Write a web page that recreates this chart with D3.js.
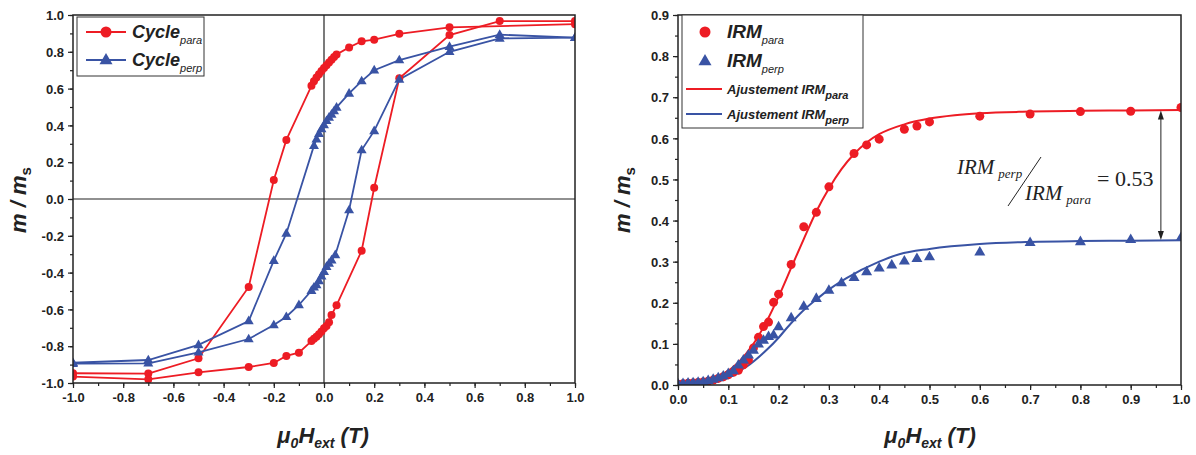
<!DOCTYPE html>
<html><head><meta charset="utf-8">
<script src="https://cdn.jsdelivr.net/npm/d3@7"></script>
<style>body{margin:0;background:#fff}svg{display:block}</style>
</head><body>
<svg id="c" width="1196" height="455"></svg>
<script>
// ---------- DATA ----------
const cycleParaDown = [[1.0,0.95],[0.5,0.933],[0.3,0.898],[0.2,0.866],[0.15,0.857],[0.1,0.824],[0.05,0.785],[0.04,0.772],[0.03,0.757],[0.02,0.742],[0.01,0.727],[0.0,0.712],[-0.01,0.695],[-0.02,0.678],[-0.03,0.66],[-0.04,0.64],[-0.05,0.615],[-0.15,0.321],[-0.2,0.103],[-0.3,-0.478],[-0.5,-0.866],[-0.7,-0.949],[-1.0,-0.947]];
const cycleParaUp = [[-1.0,-0.965],[-0.7,-0.98],[-0.5,-0.942],[-0.3,-0.913],[-0.2,-0.891],[-0.15,-0.853],[-0.1,-0.835],[-0.05,-0.772],[-0.04,-0.76],[-0.03,-0.748],[-0.02,-0.735],[-0.01,-0.72],[0.0,-0.703],[0.01,-0.69],[0.02,-0.67],[0.03,-0.63],[0.05,-0.578],[0.15,-0.281],[0.2,0.061],[0.3,0.656],[0.5,0.891],[0.7,0.967],[1.0,0.967]];
const cyclePerpDown = [[1.0,0.877],[0.7,0.893],[0.5,0.828],[0.3,0.755],[0.2,0.70],[0.15,0.641],[0.1,0.574],[0.05,0.498],[0.04,0.478],[0.03,0.46],[0.02,0.443],[0.01,0.425],[0.0,0.402],[-0.01,0.38],[-0.02,0.355],[-0.03,0.325],[-0.04,0.29],[-0.15,-0.187],[-0.2,-0.335],[-0.3,-0.663],[-0.5,-0.793],[-0.7,-0.875],[-1.0,-0.89]];
const cyclePerpUp = [[-1.0,-0.895],[-0.7,-0.893],[-0.5,-0.833],[-0.3,-0.761],[-0.2,-0.685],[-0.15,-0.64],[-0.1,-0.576],[-0.05,-0.498],[-0.04,-0.48],[-0.03,-0.467],[-0.02,-0.445],[-0.01,-0.42],[0.0,-0.395],[0.01,-0.368],[0.02,-0.35],[0.03,-0.332],[0.045,-0.304],[0.1,-0.06],[0.15,0.266],[0.2,0.37],[0.3,0.65],[0.5,0.80],[0.7,0.873],[1.0,0.877]];

const irmPara = [[0.0,0.002],[0.01,0.003],[0.02,0.004],[0.03,0.005],[0.04,0.006],[0.05,0.007],[0.06,0.009],[0.07,0.012],[0.08,0.016],[0.09,0.02],[0.1,0.025],[0.11,0.031],[0.12,0.036],[0.13,0.049],[0.14,0.061],[0.15,0.09],[0.16,0.116],[0.17,0.142],[0.18,0.153],[0.19,0.201],[0.2,0.221],[0.225,0.293],[0.25,0.385],[0.275,0.42],[0.3,0.482],[0.35,0.563],[0.375,0.584],[0.4,0.598],[0.45,0.622],[0.475,0.63],[0.5,0.64],[0.6,0.654],[0.7,0.659],[0.8,0.665],[0.9,0.666],[1.0,0.675]];
const irmPerp = [[0.0,0.003],[0.01,0.004],[0.02,0.005],[0.03,0.006],[0.04,0.007],[0.05,0.008],[0.06,0.011],[0.07,0.014],[0.08,0.018],[0.09,0.022],[0.1,0.028],[0.11,0.035],[0.12,0.049],[0.13,0.061],[0.14,0.073],[0.15,0.085],[0.16,0.1],[0.17,0.109],[0.18,0.118],[0.19,0.122],[0.2,0.142],[0.225,0.164],[0.25,0.192],[0.275,0.211],[0.3,0.231],[0.325,0.249],[0.35,0.262],[0.375,0.276],[0.4,0.285],[0.425,0.292],[0.45,0.302],[0.475,0.308],[0.5,0.312],[0.6,0.324],[0.7,0.347],[0.8,0.349],[0.9,0.354],[1.0,0.359]];
const fitPara = [[0,0],[0.03,0.003],[0.06,0.011],[0.09,0.027],[0.12,0.055],[0.15,0.1],[0.175,0.152],[0.2,0.215],[0.225,0.285],[0.25,0.355],[0.275,0.422],[0.3,0.478],[0.325,0.525],[0.35,0.562],[0.375,0.59],[0.4,0.61],[0.45,0.634],[0.5,0.648],[0.55,0.656],[0.6,0.661],[0.7,0.665],[0.8,0.667],[0.9,0.668],[1.0,0.669]];
const fitPerp = [[0,0],[0.03,0.002],[0.06,0.006],[0.1,0.021],[0.137,0.045],[0.176,0.085],[0.2,0.115],[0.216,0.138],[0.243,0.174],[0.282,0.215],[0.3,0.232],[0.335,0.26],[0.4,0.30],[0.44,0.318],[0.5,0.331],[0.6,0.343],[0.7,0.348],[0.8,0.350],[0.9,0.351],[1.0,0.352]];

const leftXTicks = [-1.0,-0.8,-0.6,-0.4,-0.2,0.0,0.2,0.4,0.6,0.8,1.0];
const leftYTicks = [-1.0,-0.8,-0.6,-0.4,-0.2,0.0,0.2,0.4,0.6,0.8,1.0];
const rightXTicks = [0.0,0.1,0.2,0.3,0.4,0.5,0.6,0.7,0.8,0.9,1.0];
const rightYTicks = [0.0,0.1,0.2,0.3,0.4,0.5,0.6,0.7,0.8,0.9];
const ratioValue = "0.53";

// ---------- STYLE ----------
const RED = "#ed1c24", BLUE = "#3953a4", AX = "#222";
const svg = d3.select("#c");
const fmt = d => d.toFixed(1);

function triPath(s){ const h = s*0.866; return `M0,${-h*0.62}L${s/2},${h*0.38}L${-s/2},${h*0.38}Z`; }

function drawAxes(g, x, y, xt, yt, xMinor, yMinor, W, H){
  g.append("g").attr("transform",`translate(0,${H})`)
    .call(d3.axisBottom(x).tickValues(xMinor).tickSize(3).tickFormat(""))
    .call(a=>{a.select(".domain").remove(); a.selectAll("line").attr("stroke",AX).attr("stroke-width",1.2);});
  g.append("g")
    .call(d3.axisLeft(y).tickValues(yMinor).tickSize(3).tickFormat(""))
    .call(a=>{a.select(".domain").remove(); a.selectAll("line").attr("stroke",AX).attr("stroke-width",1.2);});
  g.append("g").attr("transform",`translate(0,${H})`)
    .call(d3.axisBottom(x).tickValues(xt).tickSize(5).tickPadding(5).tickFormat(fmt))
    .call(a=>{a.select(".domain").remove(); a.selectAll("line").attr("stroke",AX).attr("stroke-width",1.2);
      a.selectAll("text").attr("font-family","Liberation Sans, Arial").attr("font-weight","bold").attr("font-size",13).attr("fill","#222");});
  g.append("g")
    .call(d3.axisLeft(y).tickValues(yt).tickSize(5).tickPadding(4).tickFormat(fmt))
    .call(a=>{a.select(".domain").remove(); a.selectAll("line").attr("stroke",AX).attr("stroke-width",1.2);
      a.selectAll("text").attr("font-family","Liberation Sans, Arial").attr("font-weight","bold").attr("font-size",13).attr("fill","#222").attr("dy","0.36em");});
}

function frame(g,W,H){
  g.append("rect").attr("x",0).attr("y",0).attr("width",W).attr("height",H)
    .attr("fill","none").attr("stroke",AX).attr("stroke-width",1.5);
}

function yTitle(cx, cy){
  const t = svg.append("text").attr("transform",`translate(${cx},${cy}) rotate(-90)`)
    .attr("text-anchor","middle").attr("font-family","Liberation Sans, Arial")
    .attr("font-weight","bold").attr("font-size",22).attr("fill","#222");
  t.append("tspan").attr("font-style","italic").text("m / m");
  t.append("tspan").attr("font-size",15).attr("dy",5).text("s");
}
function xTitle(cx, by){
  const t = svg.append("text").attr("x",cx).attr("y",by).attr("text-anchor","middle")
    .attr("font-family","Liberation Sans, Arial").attr("font-weight","bold").attr("font-style","italic")
    .attr("font-size",22).attr("fill","#222");
  t.append("tspan").text("μ");
  t.append("tspan").attr("font-size",14).attr("dy",5).text("0");
  t.append("tspan").attr("dy",-5).text("H");
  t.append("tspan").attr("font-size",14).attr("dy",5).text("ext");
  t.append("tspan").attr("dy",-5).text(" (T)");
}

// ---------- LEFT PLOT ----------
{
  const L = 73, T = 15, W = 502, H = 368;
  const g = svg.append("g").attr("transform",`translate(${L},${T})`);
  const x = d3.scaleLinear().domain([-1,1]).range([0,W]);
  const y = d3.scaleLinear().domain([-1,1]).range([H,0]);
  svg.append("defs").append("clipPath").attr("id","clipL").append("rect").attr("width",W).attr("height",H);
  g.append("line").attr("x1",x(0)).attr("x2",x(0)).attr("y1",0).attr("y2",H).attr("stroke",AX).attr("stroke-width",1.2);
  g.append("line").attr("x1",0).attr("x2",W).attr("y1",y(0)).attr("y2",y(0)).attr("stroke",AX).attr("stroke-width",1.2);
  const dg = g.append("g").attr("clip-path","url(#clipL)");
  const line = d3.line().x(d=>x(d[0])).y(d=>y(d[1]));
  const series = [
    {data:cycleParaDown,c:RED,m:"c"},{data:cycleParaUp,c:RED,m:"c"},
    {data:cyclePerpDown,c:BLUE,m:"t"},{data:cyclePerpUp,c:BLUE,m:"t"}];
  series.forEach(s=>{
    dg.append("path").attr("d",line(s.data)).attr("fill","none").attr("stroke",s.c).attr("stroke-width",1.8);
  });
  series.forEach(s=>{
    if(s.m==="c") dg.selectAll(null).data(s.data).join("circle").attr("cx",d=>x(d[0])).attr("cy",d=>y(d[1])).attr("r",4).attr("fill",s.c);
    else dg.selectAll(null).data(s.data).join("path").attr("d",triPath(10)).attr("transform",d=>`translate(${x(d[0])},${y(d[1])})`).attr("fill",s.c);
  });
  drawAxes(g,x,y,leftXTicks,leftYTicks,d3.range(-10,11).map(v=>v/10),d3.range(-10,11).map(v=>v/10),W,H);
  frame(g,W,H);
  const lg = svg.append("g");
  lg.append("rect").attr("x",77).attr("y",17).attr("width",127).attr("height",59).attr("fill","#fff").attr("stroke","#333").attr("stroke-width",1);
  [[32,RED,"c","para"],[60,BLUE,"t","perp"]].forEach(([yy,c,m,sub])=>{
    lg.append("line").attr("x1",86).attr("x2",126).attr("y1",yy).attr("y2",yy).attr("stroke",c).attr("stroke-width",1.8);
    if(m==="c") lg.append("circle").attr("cx",106).attr("cy",yy).attr("r",5.5).attr("fill",c);
    else lg.append("path").attr("d",triPath(13)).attr("transform",`translate(106,${yy})`).attr("fill",c);
    const t = lg.append("text").attr("x",132).attr("y",yy+6).attr("font-family","Liberation Sans, Arial").attr("font-weight","bold").attr("font-style","italic").attr("font-size",18).attr("fill","#222");
    t.append("tspan").text("Cycle");
    t.append("tspan").attr("font-size",11).attr("font-weight","normal").attr("dy",6).text(sub);
  });
  yTitle(26,200);
  xTitle(323,443);
}

// ---------- RIGHT PLOT ----------
{
  const L = 678, T = 15, W = 503, H = 370;
  const g = svg.append("g").attr("transform",`translate(${L},${T})`);
  const x = d3.scaleLinear().domain([0,1]).range([0,W]);
  const y = d3.scaleLinear().domain([0,0.9]).range([H,0]);
  svg.select("defs").append("clipPath").attr("id","clipR").append("rect").attr("width",W).attr("height",H);
  const dg = g.append("g").attr("clip-path","url(#clipR)");
  const line = d3.line().x(d=>x(d[0])).y(d=>y(d[1])).curve(d3.curveMonotoneX);
  dg.append("path").attr("d",line(fitPerp)).attr("fill","none").attr("stroke",BLUE).attr("stroke-width",2);
  dg.append("path").attr("d",line(fitPara)).attr("fill","none").attr("stroke",RED).attr("stroke-width",2);
  dg.selectAll(null).data(irmPara).join("circle").attr("cx",d=>x(d[0])).attr("cy",d=>y(d[1])).attr("r",4.5).attr("fill",RED);
  dg.selectAll(null).data(irmPerp).join("path").attr("d",triPath(11)).attr("transform",d=>`translate(${x(d[0])},${y(d[1])})`).attr("fill",BLUE);
  drawAxes(g,x,y,rightXTicks,rightYTicks,d3.range(0,21).map(v=>v/20),d3.range(0,19).map(v=>v/20),W,H);
  frame(g,W,H);
  const ax = x(0.96);
  const y1 = y(0.668), y2 = y(0.353);
  g.append("line").attr("x1",ax).attr("x2",ax).attr("y1",y1+6).attr("y2",y2-6).attr("stroke","#222").attr("stroke-width",1);
  g.append("path").attr("d",`M${ax},${y1}L${ax-3},${y1+9}L${ax+3},${y1+9}Z`).attr("fill","#222");
  g.append("path").attr("d",`M${ax},${y2}L${ax-3},${y2-9}L${ax+3},${y2-9}Z`).attr("fill","#222");
  const ff = "Liberation Serif, Times New Roman, serif";
  const a1 = svg.append("text").attr("x",957).attr("y",174).attr("font-family",ff).attr("font-style","italic").attr("font-size",21).attr("fill","#222");
  a1.append("tspan").text("IRM");
  a1.append("tspan").attr("font-size",13).attr("dx",4).attr("dy",4).text("perp");
  svg.append("line").attr("x1",1041).attr("y1",157).attr("x2",1008).attr("y2",206).attr("stroke","#222").attr("stroke-width",1);
  const a2 = svg.append("text").attr("x",1025).attr("y",200).attr("font-family",ff).attr("font-style","italic").attr("font-size",21).attr("fill","#222");
  a2.append("tspan").text("IRM");
  a2.append("tspan").attr("font-size",13).attr("dx",4).attr("dy",4).text("para");
  svg.append("text").attr("x",1097).attr("y",186).attr("font-family",ff).attr("font-size",22).attr("fill","#222").text("= " + ratioValue);
  const lg = svg.append("g");
  lg.append("rect").attr("x",682).attr("y",15).attr("width",181).attr("height",113).attr("fill","#fff").attr("stroke","#333").attr("stroke-width",1);
  lg.append("circle").attr("cx",705).attr("cy",32).attr("r",5.5).attr("fill",RED);
  lg.append("path").attr("d",triPath(13)).attr("transform","translate(705,61)").attr("fill",BLUE);
  [[38,"para"],[67,"perp"]].forEach(([yy,sub])=>{
    const t = lg.append("text").attr("x",727).attr("y",yy).attr("font-family","Liberation Sans, Arial").attr("font-weight","bold").attr("font-style","italic").attr("font-size",19).attr("fill","#222");
    t.append("tspan").text("IRM");
    t.append("tspan").attr("font-size",11).attr("font-weight","normal").attr("dy",6).text(sub);
  });
  [[89,RED,"para"],[114,BLUE,"perp"]].forEach(([yy,c,sub])=>{
    lg.append("line").attr("x1",686).attr("x2",722).attr("y1",yy).attr("y2",yy).attr("stroke",c).attr("stroke-width",1.8);
    const t = lg.append("text").attr("x",727).attr("y",yy+5).attr("font-family","Liberation Sans, Arial").attr("font-weight","bold").attr("font-style","italic").attr("font-size",13).attr("fill","#222");
    t.append("tspan").text("Ajustement IRM");
    t.append("tspan").attr("font-size",11).attr("dy",5).text(sub);
  });
  yTitle(630,200);
  xTitle(930,443);
}
</script>
</body></html>
